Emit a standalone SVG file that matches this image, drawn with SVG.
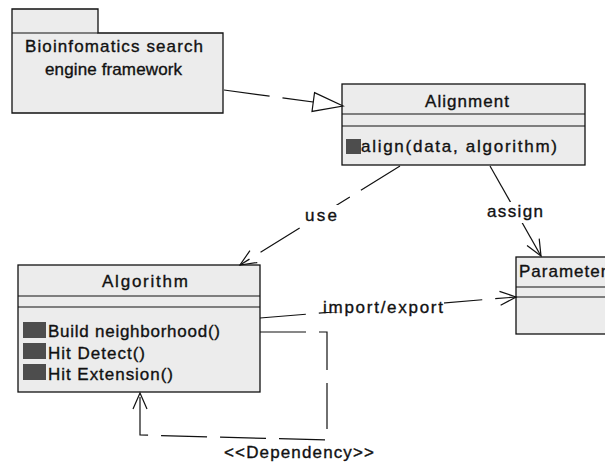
<svg xmlns="http://www.w3.org/2000/svg" width="605" height="466" viewBox="0 0 605 466">
  <style>
    text { font-family: "Liberation Sans", Arial, sans-serif; font-size: 17px; fill: #111; stroke: #111; stroke-width: 0.35; }
    .box { fill: #ececec; stroke: #111; stroke-width: 1.3; }
    .div { stroke: #111; stroke-width: 1.2; }
    .icon { fill: #4d4d4d; }
    .edge { fill: none; stroke: #111; stroke-width: 1.2; }
    .dash { stroke-dasharray: 46 13; }
    .knock { fill: #fff; }
  </style>
  <defs>
    <marker id="open" markerUnits="userSpaceOnUse" markerWidth="24" markerHeight="24" viewBox="-20 -12 24 24" refX="0" refY="0" orient="auto" overflow="visible">
      <path d="M -16 -7 L 0 0 L -16 7" fill="none" stroke="#111" stroke-width="1.2"/>
    </marker>
    <marker id="hollow" markerUnits="userSpaceOnUse" markerWidth="36" markerHeight="26" viewBox="-32 -13 36 26" refX="0" refY="0" orient="auto" overflow="visible">
      <path d="M -30 -9.5 L 0 0 L -30 9.5 Z" fill="#fff" stroke="#111" stroke-width="1.2"/>
    </marker>
  </defs>

  <rect width="605" height="466" fill="#fff"/>

  <!-- package -->
  <g id="framework">
    <path class="box" d="M 12 9 H 98 V 33 H 223 V 113 H 12 Z"/>
    <line class="div" x1="12" y1="33" x2="98" y2="33"/>
    <text x="25" y="52" textLength="178" lengthAdjust="spacing">Bioinfomatics search</text>
    <text x="45" y="75" textLength="137" lengthAdjust="spacing">engine framework</text>
  </g>

  <!-- classes -->
  <g id="alignment">
    <rect class="box" x="342" y="84" width="243" height="81"/>
    <line class="div" x1="342" y1="114" x2="585" y2="114"/>
    <line class="div" x1="342" y1="126" x2="585" y2="126"/>
    <text x="425" y="107" textLength="84" lengthAdjust="spacing">Alignment</text>
    <rect class="icon" x="346" y="139" width="15" height="15"/>
    <text x="361" y="152" textLength="196" lengthAdjust="spacing">align(data, algorithm)</text>
  </g>

  <g id="algorithm">
    <rect class="box" x="18" y="265" width="242" height="127"/>
    <line class="div" x1="18" y1="296" x2="260" y2="296"/>
    <line class="div" x1="18" y1="307" x2="260" y2="307"/>
    <text x="102" y="287" textLength="86" lengthAdjust="spacing">Algorithm</text>
    <rect class="icon" x="23" y="322" width="23" height="16"/>
    <rect class="icon" x="23" y="343" width="23" height="16"/>
    <rect class="icon" x="23" y="364" width="23" height="16"/>
    <text x="48" y="337" textLength="172" lengthAdjust="spacing">Build neighborhood()</text>
    <text x="48" y="359" textLength="97" lengthAdjust="spacing">Hit Detect()</text>
    <text x="48" y="380" textLength="125" lengthAdjust="spacing">Hit Extension()</text>
  </g>

  <g id="parameters">
    <rect class="box" x="516" y="257" width="120" height="77"/>
    <line class="div" x1="516" y1="287" x2="605" y2="287"/>
    <line class="div" x1="516" y1="297" x2="605" y2="297"/>
    <text x="519" y="277" letter-spacing="1">Parameters</text>
  </g>

  <!-- connectors -->
  <g id="connectors">
    <line class="edge dash" x1="224" y1="90" x2="343" y2="106" marker-end="url(#hollow)"/>
    <line class="edge dash" x1="400" y1="166" x2="240" y2="265" marker-end="url(#open)"/>
    <line class="edge" x1="490" y1="166" x2="541" y2="256" marker-end="url(#open)"/>
    <line class="edge dash" x1="260" y1="318" x2="516" y2="297" marker-end="url(#open)"/>
    <polyline class="edge dash" points="260,332 327,332 327,440 140,435 140,393" marker-end="url(#open)"/>

    <!-- label backgrounds break the lines under the labels -->
    <rect class="knock" x="302" y="205" width="38" height="21"/>
    <rect class="knock" x="484" y="202" width="62" height="21"/>
    <rect class="knock" x="324" y="299" width="120" height="13"/>

    <text x="305" y="221" textLength="32" lengthAdjust="spacing">use</text>
    <text x="487" y="217" textLength="56" lengthAdjust="spacing">assign</text>
    <text x="323" y="313" textLength="120" lengthAdjust="spacing">import/export</text>
    <text x="224" y="458" textLength="150" lengthAdjust="spacing">&lt;&lt;Dependency&gt;&gt;</text>
  </g>
</svg>
